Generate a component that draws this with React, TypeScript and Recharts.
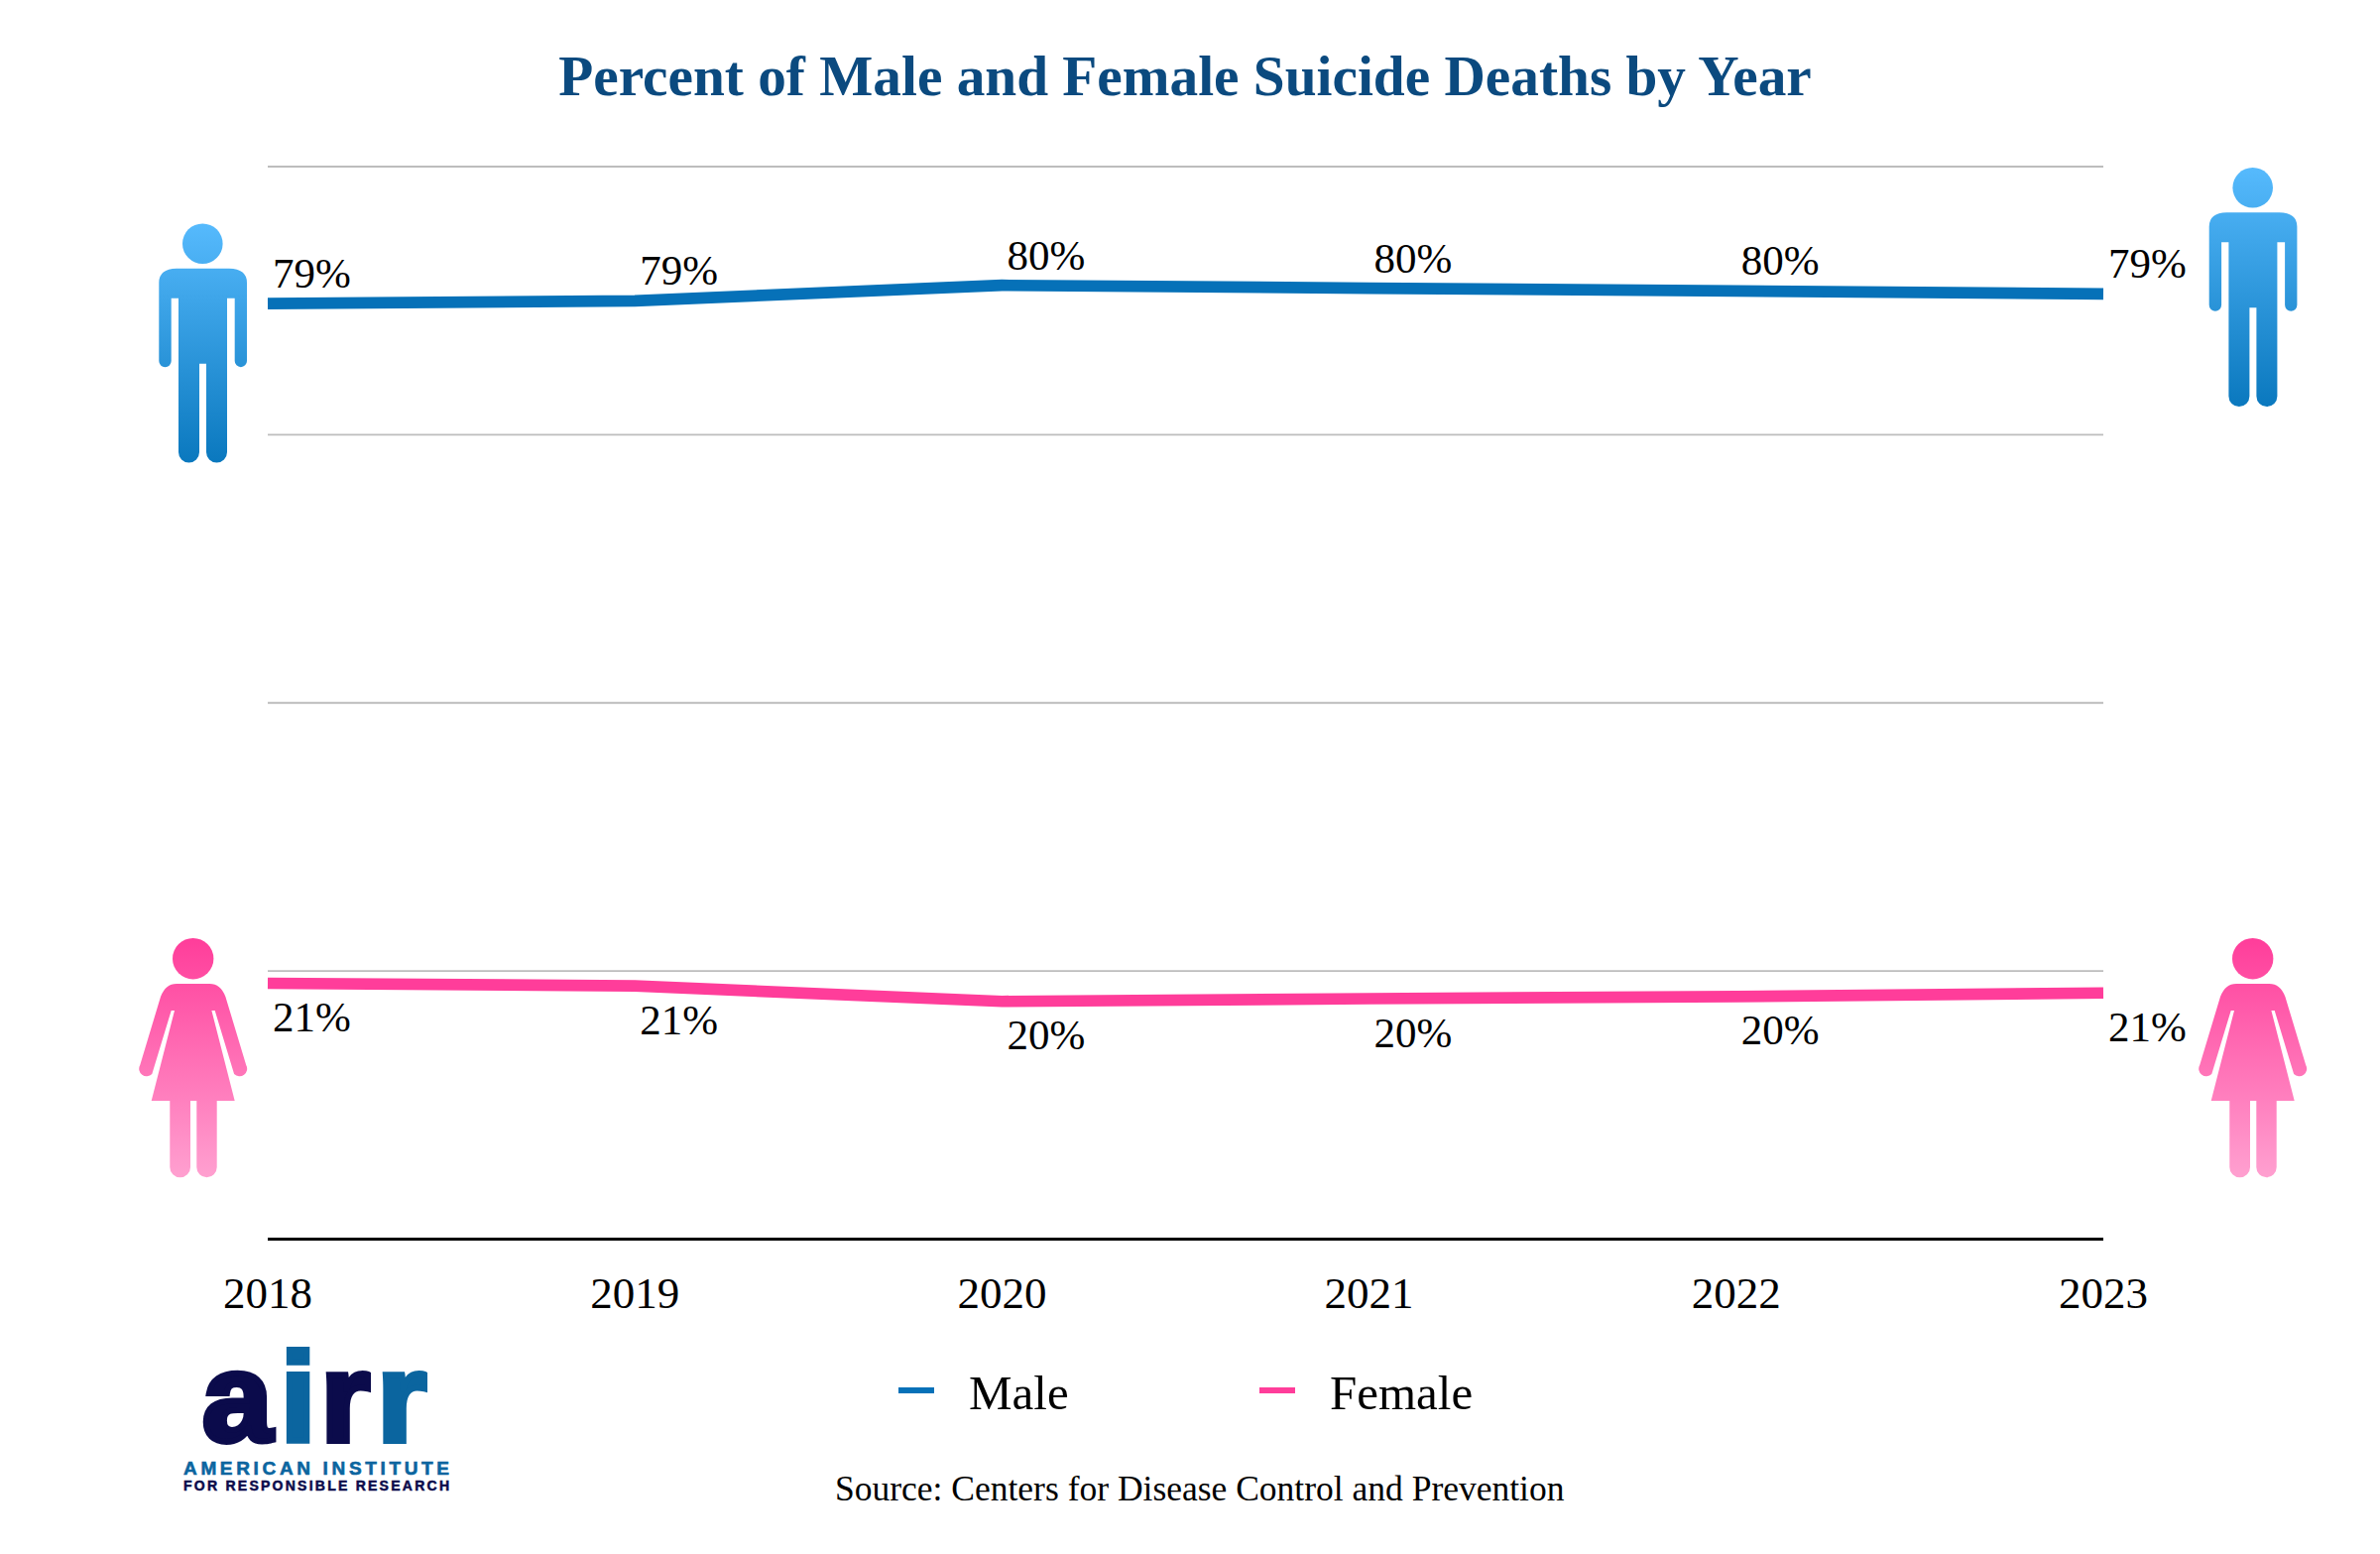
import { CartesianGrid, LabelList, Legend, Line, LineChart, XAxis, YAxis } from "recharts";

const years = ["2018", "2019", "2020", "2021", "2022", "2023"];
const maleValues = [78.5, 78.74, 80.04, 79.8, 79.57, 79.32];
const femaleValues = [21.47, 21.25, 19.95, 20.18, 20.35, 20.66];
const gridTicks = [0, 22.5, 45, 67.5, 90];

const chartData = years.map((year, i) => ({
  year,
  male: maleValues[i],
  female: femaleValues[i],
}));

const SERIF = "'Liberation Serif', serif";
const SANS = "'Liberation Sans', sans-serif";
const MALE_COLOR = "#0671B8";
const FEMALE_COLOR = "#FF3D9A";
const LOGO_NAVY = "#0B0B4B";
const LOGO_BLUE = "#0B659F";

const MAN_BODY =
  "M160.3 285 Q160.3 271 178 270.7 L231 270.7 Q249 271 249 285 L249 364 A6.15 6.15 0 0 1 236.7 364 L236.7 300.7 L229 300.7 L229 456 A10.5 10.5 0 0 1 208 456 L208 366.7 L201 366.7 L201 456 A10.5 10.5 0 0 1 180 456 L180 300.7 L172.7 300.7 L172.7 364 A6.2 6.2 0 0 1 160.3 364 Z";
const WOMAN_BODY =
  "M178 992 L211.4 992 Q222.4 992 227.4 1005 L248.2 1074 A7.6 7.6 0 0 1 236.1 1083 L216.7 1019 L213.4 1019 L236.7 1110 L218.7 1110 L218.7 1177 A10.2 10.2 0 0 1 198.3 1177 L198.3 1110 L192 1110 L192 1177 A10.35 10.35 0 0 1 171.3 1177 L171.3 1110 L152.7 1110 L176 1019 L172.7 1019 L153.3 1083 A7.6 7.6 0 0 1 141.2 1074 L162 1005 Q167 992 178 992 Z";

const Man = ({ dx, dy }: { dx: number; dy: number }) => (
  <g transform={`translate(${dx} ${dy})`} fill="url(#manFill)">
    <circle cx={204.3} cy={245.7} r={20.3} />
    <path d={MAN_BODY} />
  </g>
);

const Woman = ({ dx }: { dx: number }) => (
  <g transform={`translate(${dx} 0)`} fill="url(#womanFill)">
    <circle cx={194.7} cy={966.7} r={20.7} />
    <path d={WOMAN_BODY} />
  </g>
);

const percentLabel = (dy: number) => (props: any) => (
  <text x={props.x + 5} y={props.y + dy} fontFamily={SERIF} fontSize={43} fill="#000">
    {Math.round(props.value)}%
  </text>
);

const LegendRow = ({ payload }: any) => (
  <div style={{ display: "flex", fontFamily: SERIF, fontSize: 49, lineHeight: "56px", color: "#000" }}>
    {(payload || []).map((entry: any) => (
      <div key={entry.value} style={{ display: "flex", alignItems: "center", width: 364 }}>
        <div style={{ width: 36, height: 6, marginRight: 35, marginTop: -6, background: entry.color }} />
        <span>{entry.value}</span>
      </div>
    ))}
  </div>
);

const App = () => {
  return (
    <div style={{ position: "absolute", left: 0, top: 0, width: 2400, height: 1567, background: "#fff" }}>
      <LineChart
        width={2400}
        height={1567}
        data={chartData}
        margin={{ top: 168, right: 279, bottom: 287.5, left: 270 }}
      >
        <CartesianGrid vertical={false} stroke="#BDBDBD" strokeWidth={1.8} />
        <XAxis
          dataKey="year"
          interval={0}
          tickLine={false}
          axisLine={{ stroke: "#000", strokeWidth: 3 }}
          tick={{ fontFamily: SERIF, fontSize: 45, fill: "#000" }}
          tickMargin={32}
        />
        <YAxis hide domain={[0, 90]} ticks={gridTicks} />
        <Legend
          layout="horizontal"
          verticalAlign="middle"
          itemSorter={null}
          content={<LegendRow />}
          wrapperStyle={{ position: "absolute", left: 906, top: 1377, width: 800 }}
        />
        <Line
          dataKey="male"
          name="Male"
          stroke={MALE_COLOR}
          strokeWidth={11.7}
          dot={false}
          isAnimationActive={false}
        >
          <LabelList dataKey="male" content={percentLabel(-16)} />
        </Line>
        <Line
          dataKey="female"
          name="Female"
          stroke={FEMALE_COLOR}
          strokeWidth={11.7}
          dot={false}
          isAnimationActive={false}
        >
          <LabelList dataKey="female" content={percentLabel(48.5)} />
        </Line>
      </LineChart>

      <svg
        width={2400}
        height={1567}
        style={{ position: "absolute", left: 0, top: 0, pointerEvents: "none" }}
      >
        <defs>
          <linearGradient id="manFill" gradientUnits="userSpaceOnUse" x1={0} y1={225} x2={0} y2={467}>
            <stop offset="0" stopColor="#56BAFD" />
            <stop offset="1" stopColor="#0A78BE" />
          </linearGradient>
          <linearGradient id="womanFill" gradientUnits="userSpaceOnUse" x1={0} y1={946} x2={0} y2={1187}>
            <stop offset="0" stopColor="#FF3D9A" />
            <stop offset="1" stopColor="#FFA0D0" />
          </linearGradient>
        </defs>

        <text
          x={1195}
          y={96}
          textAnchor="middle"
          fontFamily={SERIF}
          fontWeight={700}
          fontSize={57.3}
          fill="#0B4A7F"
        >
          Percent of Male and Female Suicide Deaths by Year
        </text>

        <Man dx={0} dy={0} />
        <Man dx={2067.4} dy={-56.4} />
        <Woman dx={0} />
        <Woman dx={2077} />

        <text y={1453} fontFamily={SANS} fontWeight={700} fontSize={127} strokeWidth={6}>
          <tspan x={204} fill={LOGO_NAVY} stroke={LOGO_NAVY}>a</tspan>
          <tspan x={283} fill={LOGO_BLUE} stroke={LOGO_BLUE}>i</tspan>
          <tspan x={323.6} fill={LOGO_NAVY} stroke={LOGO_NAVY}>r</tspan>
          <tspan x={380.6} fill={LOGO_BLUE} stroke={LOGO_BLUE}>r</tspan>
        </text>
        <text x={185} y={1487} fontFamily={SANS} fontWeight={700} fontSize={19} fill={LOGO_BLUE} textLength={268} stroke={LOGO_BLUE} strokeWidth={0.6}>
          AMERICAN INSTITUTE
        </text>
        <text x={185} y={1503} fontFamily={SANS} fontWeight={700} fontSize={14} fill={LOGO_NAVY} textLength={268} stroke={LOGO_NAVY} strokeWidth={0.5}>
          FOR RESPONSIBLE RESEARCH
        </text>

        <text x={842} y={1513} fontFamily={SERIF} fontSize={35.5} fill="#000">
          Source: Centers for Disease Control and Prevention
        </text>
      </svg>
    </div>
  );
};

export default App;
